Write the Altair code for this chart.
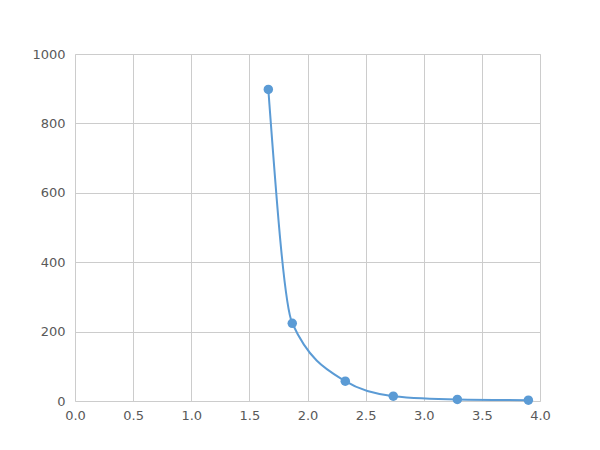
import altair as alt
import pandas as pd

xs = [1.663, 1.869, 2.325, 2.738, 3.289, 3.90]
ys = [898, 224, 57, 14, 4.5, 2.5]

df = pd.DataFrame({"x": xs, "y": ys})

grid = "#cccccc"

xenc = alt.X("x:Q", scale=alt.Scale(domain=[0, 4], nice=False),
             axis=alt.Axis(values=[0, 0.5, 1, 1.5, 2, 2.5, 3, 3.5, 4], format=".1f", title=None,
                           grid=True, gridColor=grid, domain=False, ticks=False,
                           labelPadding=8, labelColor="#595959", labelFontSize=13,
                           labelFont="DejaVu Sans", labelFlush=False, labelOverlap=False))
yenc = alt.Y("y:Q", scale=alt.Scale(domain=[0, 1000], nice=False),
             axis=alt.Axis(values=[0, 200, 400, 600, 800, 1000], format="d", title=None,
                           grid=True, gridColor=grid, domain=False, ticks=False,
                           labelPadding=10, labelColor="#595959", labelFontSize=13,
                           labelFont="DejaVu Sans", labelFlush=False, labelOverlap=False))

line = alt.Chart(df).mark_line(interpolate="monotone", color="#5b9bd5", strokeWidth=2).encode(x=xenc, y=yenc)
pts = alt.Chart(df).mark_point(filled=True, opacity=1, color="#5b9bd5", size=90).encode(x=xenc, y=yenc)

chart = (line + pts).properties(
    width=465, height=347,
    autosize=alt.AutoSizeParams(type="none"),
    padding={"left": 67, "top": 46, "right": 50, "bottom": 40},
).configure_view(stroke=grid, strokeWidth=1).configure(background="white")

chart.save("out.html", embed_options={"renderer": "svg", "actions": False})
